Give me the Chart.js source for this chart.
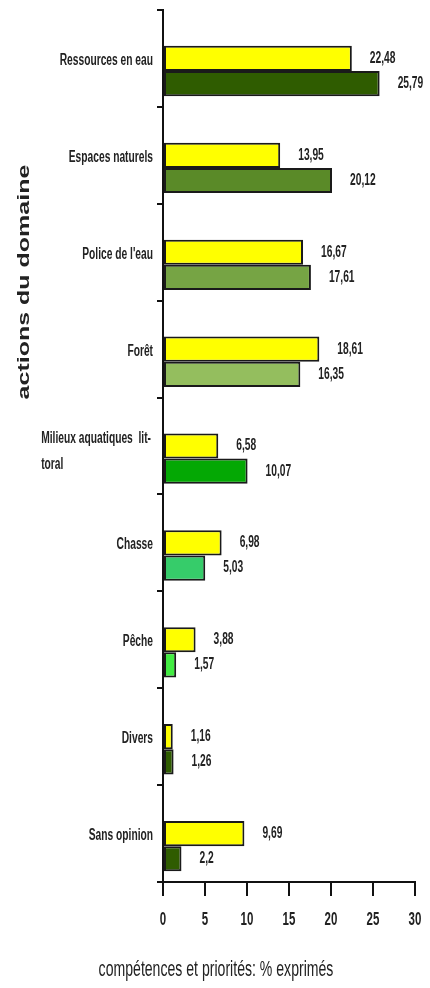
<!DOCTYPE html>
<html>
<head>
<meta charset="utf-8">
<script src="https://cdn.jsdelivr.net/npm/chart.js@4.4.1/dist/chart.umd.min.js"></script>
<style>
  html, body { margin: 0; padding: 0; background: #fff; }
  #wrap { width: 430px; height: 988px; }
</style>
</head>
<body>
<div id="wrap"><canvas id="domainChart"></canvas></div>
<script>
// actions du domaine
var categories = [
	'Ressources en eau',
	'Espaces naturels',
	"Police de l'eau",
	'Forêt',
	['Milieux aquatiques  lit-', 'toral'],
	'Chasse',
	'Pêche',
	'Divers',
	'Sans opinion'
];
// % exprimés
var competences = [22.48, 13.95, 16.67, 18.61, 6.58, 6.98, 3.88, 1.16, 9.69];
var priorites = [25.79, 20.12, 17.61, 16.35, 10.07, 5.03, 1.57, 1.26, 2.2];
var prioriteColors = ['#2f5c00', '#5a8a28', '#76a444', '#94be5e', '#04a804', '#36cc6a', '#42ec42', '#2f5c00', '#2f5c00'];
var xMin = 0, xMax = 30, xStep = 5;

var arial = "'Liberation Sans', Arial, sans-serif";
var textColor = '#222';
var squeeze = 0.64;   // the whole figure is narrow, text included

function narrowText(ctx, text, x, y, align, font) {
	ctx.save();
	ctx.font = font;
	ctx.textAlign = align;
	ctx.textBaseline = 'middle';
	ctx.fillStyle = textColor;
	ctx.translate(x, y);
	ctx.scale(squeeze, 1);
	ctx.fillText(text, 0, 0);
	ctx.restore();
}

// category names, tick values and value labels
var chartText = {
	id: 'chartText',
	afterDatasetsDraw: function (chart) {
		var ctx = chart.ctx;
		var xs = chart.scales.x, ys = chart.scales.y;

		var catFont = 'bold 16px ' + arial;
		var right = ys.right - 10;
		chart.data.labels.forEach(function (label, i) {
			var y = ys.getPixelForTick(i);
			if (Array.isArray(label)) {
				ctx.save();
				ctx.font = catFont;
				var widest = Math.max.apply(null, label.map(function (l) { return ctx.measureText(l).width; })) * squeeze;
				ctx.restore();
				label.forEach(function (l, k) {
					narrowText(ctx, l, right - widest - 2, y - 7 + k * 26, 'left', catFont);
				});
			} else {
				narrowText(ctx, label, right, y + 2, 'right', catFont);
			}
		});

		xs.ticks.forEach(function (t) {
			narrowText(ctx, String(t.value), xs.getPixelForValue(t.value), xs.top + 38, 'center', 'bold 18px ' + arial);
		});

		chart.data.datasets.forEach(function (ds, i) {
			if (!ds.showValues) return;
			chart.getDatasetMeta(i).data.forEach(function (bar, j) {
				var v = ds.data[j];
				narrowText(ctx, String(v).replace('.', ','), bar.x + 18, bar.y, 'left', 'bold 16px ' + arial);
			});
		});
	}
};

// axis titles
var axisTitles = {
	id: 'axisTitles',
	afterDraw: function (chart) {
		var ctx = chart.ctx;
		narrowText(ctx, 'compétences et priorités: % exprimés', 216, 970, 'center', '22px ' + arial);

		ctx.save();
		ctx.fillStyle = textColor;
		ctx.textAlign = 'center';
		ctx.textBaseline = 'middle';
		ctx.translate(25, 282);
		ctx.rotate(-Math.PI / 2);
		ctx.scale(1, squeeze);
		ctx.font = 'bold 25px ' + arial;
		ctx.fillText('actions du domaine', 0, 0);
		ctx.restore();
	}
};

var ctx = document.getElementById('domainChart').getContext('2d');

var chart = new Chart(ctx, {
	type: 'bar',
	data: {
		labels: categories,
		datasets: [
			{
				// empty slot so the yellow bar sits on the category line
				label: '',
				data: categories.map(function () { return null; }),
				backgroundColor: 'rgba(0,0,0,0)'
			},
			{
				label: 'compétences',
				data: competences,
				backgroundColor: '#ffff00',
				borderColor: '#1a1a1a',
				borderWidth: 2,
				borderSkipped: false,
				showValues: true
			},
			{
				label: 'priorités',
				data: priorites,
				backgroundColor: prioriteColors,
				borderColor: '#1a1a1a',
				borderWidth: 2,
				borderSkipped: false,
				showValues: true
			}
		]
	},
	options: {
		indexAxis: 'y',
		responsive: true,
		maintainAspectRatio: false,
		animation: false,
		layout: {
			padding: { top: 10, right: 15, left: 0, bottom: 0 }
		},
		datasets: {
			bar: {
				categoryPercentage: 0.78,
				barPercentage: 1.0
			}
		},
		plugins: {
			legend: { display: false },
			tooltip: { enabled: false }
		},
		scales: {
			x: {
				min: xMin,
				max: xMax,
				ticks: { stepSize: xStep, display: false },
				grid: {
					drawOnChartArea: false,
					color: '#111',
					lineWidth: 2,
					tickLength: 14
				},
				border: { color: '#111', width: 2 },
				afterFit: function (scale) { scale.height = 106; }
			},
			y: {
				ticks: { display: false },
				grid: {
					drawOnChartArea: false,
					offset: true,
					color: '#111',
					lineWidth: 2,
					tickLength: 6
				},
				border: { color: '#111', width: 2 },
				afterFit: function (scale) { scale.width = 163; }
			}
		}
	},
	plugins: [chartText, axisTitles]
});
</script>
</body>
</html>
